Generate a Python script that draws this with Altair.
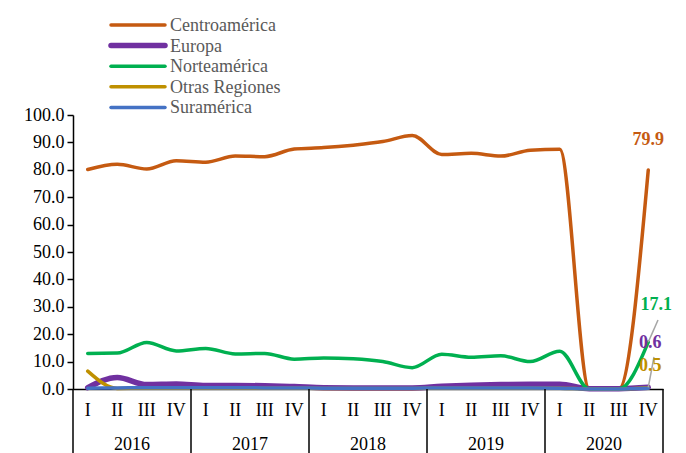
import altair as alt
import pandas as pd

years = ["2016", "2017", "2018", "2019", "2020"]
quarters = ["I", "II", "III", "IV"]
series_names = ["Centroamérica", "Europa", "Norteamérica", "Otras Regiones", "Suramérica"]

centro = [80.1, 82.0, 80.3, 83.3, 82.8, 85.0, 84.8, 87.6, 88.1, 89.0, 90.3, 92.5,
          85.6, 86.0, 85.0, 87.1, 87.5, 0.0, 0.0, 79.9]
europa = [0.5, 4.2, 1.6, 1.8, 1.3, 1.3, 1.2, 0.9, 0.5, 0.4, 0.4, 0.4,
          1.0, 1.4, 1.6, 1.7, 1.7, 0.1, 0.1, 0.6]
norte = [13.0, 13.1, 17.0, 13.9, 14.8, 12.8, 13.0, 10.9, 11.3, 11.0, 10.0, 7.8,
         12.7, 11.6, 12.1, 10.0, 13.8, 0.0, 0.0, 17.1]
otras = [6.5, 0.2, 0.3, 0.3, 0.3, 0.3, 0.3, 0.3, 0.2, 0.2, 0.2, 0.2,
         0.3, 0.3, 0.3, 0.3, 0.3, 0.0, 0.0, 0.5]
sura = [0.3, 0.4, 0.5, 0.5, 0.5, 0.5, 0.4, 0.4, 0.3, 0.3, 0.3, 0.3,
        0.4, 0.4, 0.4, 0.4, 0.3, 0.0, 0.0, 0.3]

colors = ["#C55A11", "#7030A0", "#00B050", "#BF9000", "#4472C4"]

rows = []
for name, vals in zip(series_names, [centro, europa, norte, otras, sura]):
    for i, v in enumerate(vals):
        rows.append({"serie": name, "idx": i, "valor": v,
                     "q": quarters[i % 4], "year": years[i // 4]})
df = pd.DataFrame(rows)

qdf = pd.DataFrame({"idx": list(range(20)), "q": [quarters[i % 4] for i in range(20)]})
ydf = pd.DataFrame({"idx": [1.5 + 4 * k for k in range(5)], "year": years})
sdf = pd.DataFrame({"idx": [-0.5 + 4 * k for k in range(6)]})

FONT = "Liberation Serif"
FS = 18
W, H = 590, 274

xs = alt.Scale(domain=[-0.5, 19.5], nice=False, zero=False)
ys = alt.Scale(domain=[0, 100], nice=False)
cs = alt.Scale(domain=series_names, range=colors)

x_axis = alt.Axis(labels=False, ticks=False, grid=False, title=None,
                  domainColor="black", domainWidth=1.5)
y_axis = alt.Axis(values=list(range(0, 101, 10)), format=".1f", title=None,
                  grid=False, labelOverlap=False, labelFlush=False,
                  labelFont=FONT, labelFontSize=FS, labelColor="black",
                  tickColor="black", tickSize=6, tickWidth=1.5, domainColor="black",
                  domainWidth=1.5, labelPadding=3)
xn = alt.X("idx:Q", scale=xs, axis=x_axis)
yn = alt.Y("valor:Q", scale=ys, axis=y_axis)

width_cond = alt.condition("datum.serie === 'Europa'", alt.value(5.5), alt.value(3.5))

lines = alt.Chart(df).mark_line(interpolate="monotone", strokeCap="round").encode(
    x=xn, y=yn,
    color=alt.Color("serie:N", scale=cs, legend=None),
    strokeWidth=width_cond,
    order=alt.Order("idx:Q"),
)

# manual legend (rows placed above the plot area)
legend_layers = []
for k, name in enumerate(series_names):
    ldf = pd.DataFrame({"serie": [name]})
    py = -90 + 20.6 * k
    legend_layers.append(
        alt.Chart(ldf).mark_rule(strokeCap="round",
                                 strokeWidth=5.5 if name == "Europa" else 3.5).encode(
            x=alt.value(38), x2=alt.value(92), y=alt.value(py),
            color=alt.Color("serie:N", scale=cs, legend=None))
    )
    legend_layers.append(
        alt.Chart(ldf).mark_text(font=FONT, fontSize=FS, color="#595959", align="left",
                                 baseline="middle").encode(
            x=alt.value(97), y=alt.value(py + 1), text="serie:N")
    )

label_offsets = {"Centroamérica": (0, -30), "Norteamérica": (8, -37),
                 "Europa": (2, -44), "Otras Regiones": (2, -22)}
label_layers = []
for name, (dx, dy) in label_offsets.items():
    sub = df[(df["serie"] == name) & (df["idx"] == 19)]
    label_layers.append(
        alt.Chart(sub).mark_text(font=FONT, fontSize=FS, fontWeight="bold", dx=dx, dy=dy,
                                 color=colors[series_names.index(name)]).encode(
            x=xn, y=yn, text=alt.Text("valor:Q", format=".1f"))
    )

# leader lines from labels to their points
lead_pos = {"Norteamérica": (585, 205), "Europa": (581, 242)}
lead_layers = []
for name, (lx, ly) in lead_pos.items():
    sub = df[(df["serie"] == name) & (df["idx"] == 19)]
    lead_layers.append(
        alt.Chart(sub).mark_rule(color="#A6A6A6", strokeWidth=1.5).encode(
            x=xn, y=yn, x2=alt.value(lx), y2=alt.value(ly))
    )

qlabels = alt.Chart(qdf).mark_text(font=FONT, fontSize=FS, color="black", baseline="middle").encode(
    x=xn, y=alt.value(H + 22), text="q:N")
ylabels = alt.Chart(ydf).mark_text(font=FONT, fontSize=FS, color="black", baseline="middle").encode(
    x=xn, y=alt.value(H + 56), text="year:N")
seps = alt.Chart(sdf).mark_rule(color="black", strokeWidth=1.5).encode(
    x=xn, y=alt.value(H), y2=alt.value(H + 72))

chart = alt.layer(lines, *lead_layers, *label_layers, *legend_layers,
                  qlabels, ylabels, seps).properties(
    width=W, height=H,
    autosize=alt.AutoSizeParams(type="none"),
    padding={"left": 65, "top": 107, "right": 15, "bottom": 66},
).configure_view(stroke=None)

chart.save("out.html", embed_options={"renderer": "svg", "actions": False})
